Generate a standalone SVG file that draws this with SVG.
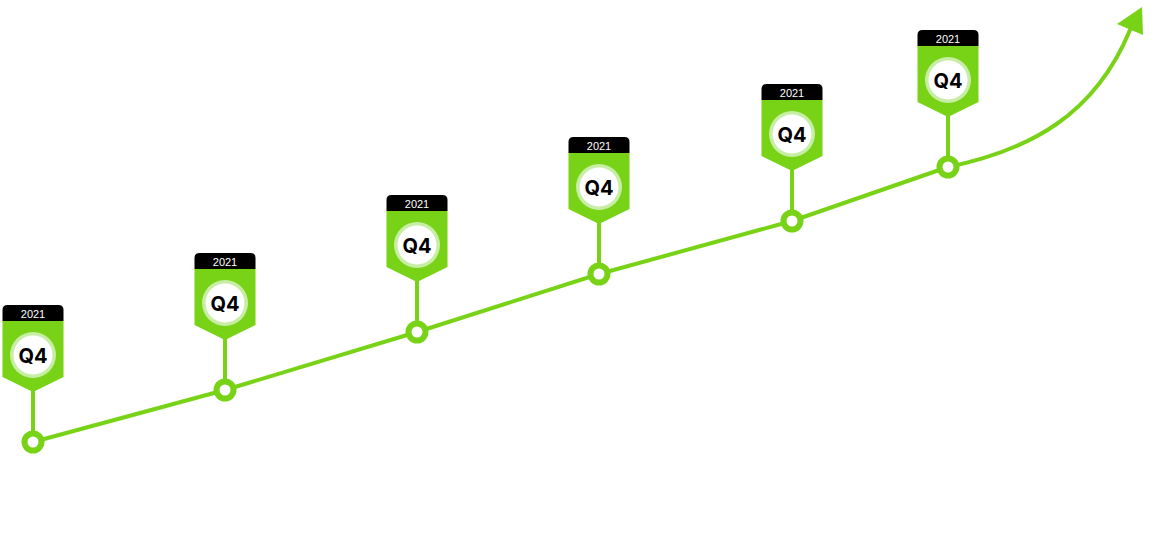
<svg xmlns="http://www.w3.org/2000/svg" width="1166" height="554" viewBox="0 0 1166 554">
<defs>
<style>
.ln{fill:none;stroke:#78d317;stroke-width:4;stroke-linecap:round}
.band{fill:#000}
.body{fill:#78d317}
.ring{fill:#c8eea6}
.face{fill:#fff}
.yr{font-family:"Liberation Sans",Arial,sans-serif;font-size:11px;fill:#fff;text-anchor:middle}
.q{font-family:Inter,"Liberation Sans",sans-serif;font-weight:700;font-size:20px;fill:#000;text-anchor:middle}
.stem{stroke:#78d317;stroke-width:4}
.node{fill:#fff;stroke:#78d317;stroke-width:6}
</style>
<g id="marker">
<path class="band" d="M-30.5 16V5Q-30.5 0-25.5 0H25.5Q30.5 0 30.5 5V16Z"/>
<path class="body" d="M-30.5 16H30.5V72L0 87L-30.5 72Z"/>
<circle class="ring" cx="0" cy="50" r="23"/>
<circle class="face" cx="0" cy="50" r="19.5"/>
<text class="yr" x="0" y="12.5">2021</text>
<text class="q" x="0" y="57.5">Q4</text>
<line class="stem" x1="0" y1="86" x2="0" y2="128"/>
</g>
</defs>
<g id="connectors">
<polyline class="ln" points="33,442 225,390 417,332 599,274 792,221 948,167"/>
<path class="ln" d="M948 167C1030 150 1095 115 1130 30"/>
<polygon fill="#78d317" points="1142,7 1117,24 1143,35"/>
</g>
<g id="m1" transform="translate(33,305)"><use href="#marker"/><circle class="node" cx="0" cy="137" r="8.5"/></g>
<g id="m2" transform="translate(225,253)"><use href="#marker"/><circle class="node" cx="0" cy="137" r="8.5"/></g>
<g id="m3" transform="translate(417,195)"><use href="#marker"/><circle class="node" cx="0" cy="137" r="8.5"/></g>
<g id="m4" transform="translate(599,137)"><use href="#marker"/><circle class="node" cx="0" cy="137" r="8.5"/></g>
<g id="m5" transform="translate(792,84)"><use href="#marker"/><circle class="node" cx="0" cy="137" r="8.5"/></g>
<g id="m6" transform="translate(948,30)"><use href="#marker"/><circle class="node" cx="0" cy="137" r="8.5"/></g>
</svg>
